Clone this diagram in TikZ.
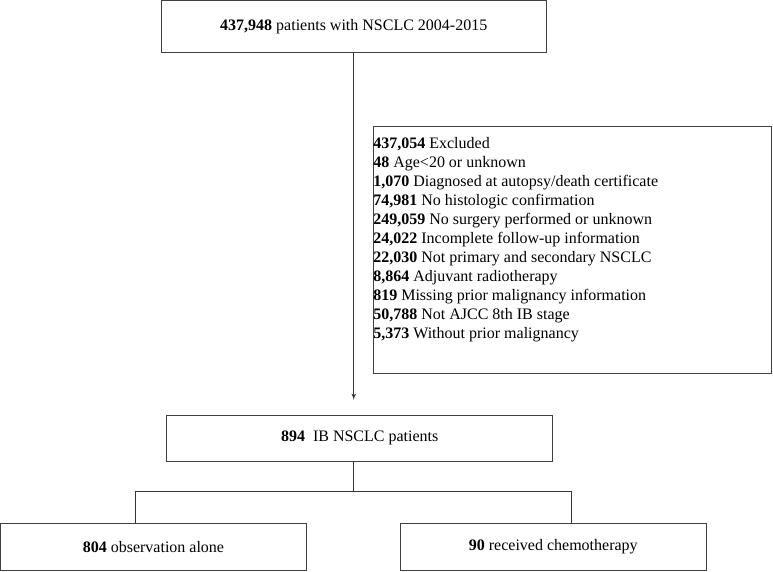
\documentclass[tikz,border=0pt]{standalone}
\usepackage{fontspec}
\setmainfont{Liberation Serif}
\usetikzlibrary{positioning}
\usetikzlibrary{arrows}

\begin{document}
\begin{tikzpicture}[
x=0.75pt, y=-0.75pt,
flowbox/.style={rectangle, draw=black!75, line width=0.7pt, inner sep=0pt, font=\fontsize{12}{14.25}\selectfont},
listtext/.style={align=left, inner sep=0pt, anchor=north west, font=\fontsize{12}{14.25}\selectfont},
edge/.style={->,> = latex', draw=black!80, line width=0.6pt},
branch/.style={draw=black!80, line width=0.6pt}
]
\useasboundingbox (0,0) rectangle (773,571);

%Nodes
\node[flowbox, minimum width=289.1pt, minimum height=38.9pt] (top)   at (353.75,26.55)  {\textbf{437,948} patients with NSCLC 2004-2015};
\node[flowbox, minimum width=298.9pt, minimum height=184.7pt] (excl) at (572.25,249.85) {};
\node[listtext, xshift=0.4pt, yshift=-7.8pt] (excllist) at (excl.north west) {
\textbf{437,054} Excluded\\
\textbf{48} Age\textless20 or unknown\\
\textbf{1,070} Diagnosed at autopsy/death certificate\\
\textbf{74,981} No histologic confirmation\\
\textbf{249,059} No surgery performed or unknown\\
\textbf{24,022} Incomplete follow-up information\\
\textbf{22,030} Not primary and secondary NSCLC\\
\textbf{8,864} Adjuvant radiotherapy\\
\textbf{819} Missing prior malignancy information\\
\textbf{50,788} Not AJCC 8th IB stage\\
\textbf{5,373} Without prior malignancy};
\node[flowbox, minimum width=289.5pt, minimum height=35pt]   (mid)   at (359.7,438.35)  {\textbf{894}\ \ IB NSCLC patients};
\node[flowbox, minimum width=229.3pt, minimum height=35.2pt] (left)  at (153.45,546.75) {\textbf{804} observation alone};
\node[flowbox, minimum width=229.5pt, minimum height=35pt]   (right) at (553.3,546.85)  {\textbf{90} received chemotherapy};

\coordinate (fork)  at (353.5,491);
\coordinate (forkl) at (135.3,491);
\coordinate (forkr) at (571.7,491);

%Lines
\draw[edge, shorten >=11pt] (top.south) -- (top.south |- mid.north);
\draw[branch] (fork |- mid.south) -- (fork);
\draw[branch] (forkl |- left.north) -- (forkl) -- (forkr) -- (forkr |- right.north);

\end{tikzpicture}
\end{document}
